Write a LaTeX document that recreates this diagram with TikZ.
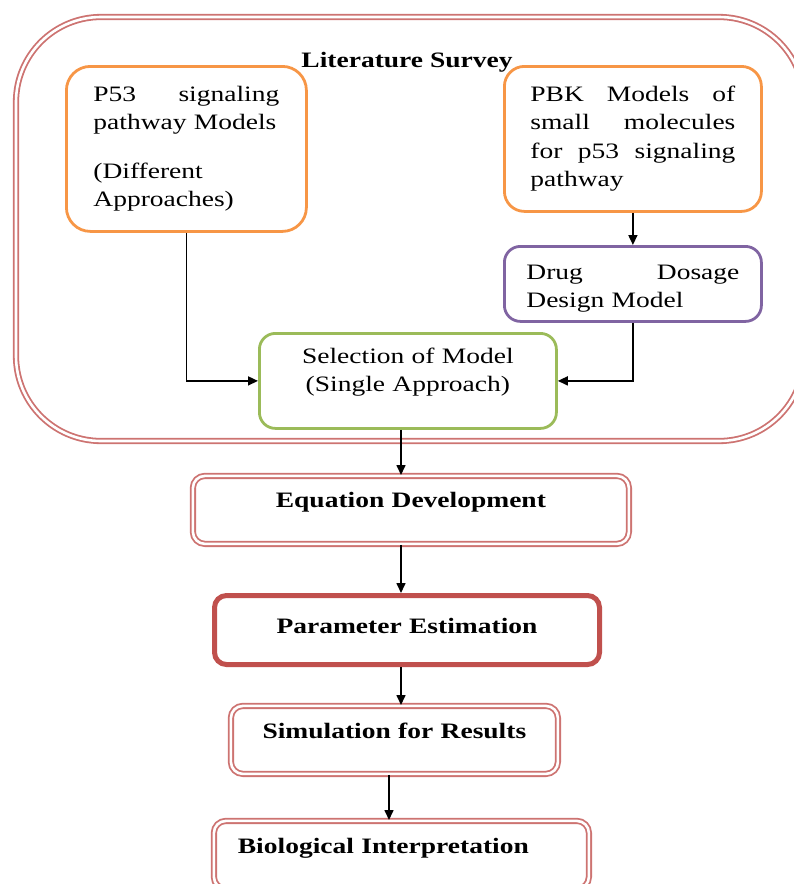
\documentclass[tikz,border=0pt]{standalone}
\usepackage{fontspec}
\setmainfont{Liberation Serif}[FakeStretch=1.25]
\usetikzlibrary{arrows.meta}

\definecolor{orangeline}{HTML}{F79646}
\definecolor{purpleline}{HTML}{8064A2}
\definecolor{greenline}{HTML}{9BBB59}
\definecolor{redline}{HTML}{C0504D}

\tikzset{
	every node/.style={font=\fontsize{22}{28.5}\selectfont},
	modelbox/.style={draw=#1, line width=2.8pt, rounded corners=16pt, anchor=north west, inner ysep=0pt},
	dblline/.style={draw=redline!80, double=white, line width=1.8pt, double distance=2.6pt},
	stagebox/.style={dblline, rounded corners=12pt, anchor=north west, inner ysep=0pt, inner xsep=20pt, align=center, font=\fontsize{22}{28.5}\selectfont\bfseries},
	flow/.style={-{Triangle[length=10pt,width=9pt]}, line width=1.6pt},
}

\begin{document}
\begin{tikzpicture}[x=1pt, y=-1pt]
	\useasboundingbox (0,0) rectangle (793,884);
	
	% literature survey frame
	\draw[dblline, rounded corners=85pt] (16,17) rectangle (804,441);
	\node[anchor=base, font=\fontsize{22}{28.5}\selectfont\bfseries] (litsurvey) at (407,67) {Literature Survey};
	
	\node[modelbox=orangeline, rounded corners=24pt, text width=186pt, inner xsep=27pt, text height=35pt, text depth=130pt, align=left] (p53) at (65,65) {P53 \hfill signaling\\ pathway Models\\[20pt] (Different\\ Approaches)};
	\node[modelbox=orangeline, rounded corners=20pt, text width=205pt, inner xsep=26pt, text height=35pt, text depth=110pt, align=left] (pbk) at (503,65) {PBK \hfill Models \hfill of\\ small \hfill molecules\\ for \hfill p53 \hfill signaling\\ pathway};
	\node[modelbox=purpleline, text width=213pt, inner xsep=22pt, text height=33pt, text depth=42pt, align=left] (drug) at (503,245) {Drug \hfill Dosage\\ Design Model};
	\node[modelbox=greenline, text width=257pt, inner xsep=20pt, text height=30pt, text depth=65pt, align=center] (sel) at (258,332) {Selection of Model\\ (Single Approach)};
	
	% stages below the frame
	\node[stagebox, text width=396pt, text height=32pt, text depth=36pt] (eq) at (192,475) {Equation Development};
	\node[stagebox, draw=redline, double=none, line width=5pt, text width=345pt, text height=38pt, text depth=31pt] (par) at (212,593) {Parameter Estimation};
	\node[stagebox, text width=287pt, text height=33pt, text depth=35pt] (sim) at (230,705) {Simulation for Results};
	\node[stagebox, text width=327pt, inner xsep=24pt, text height=33pt, text depth=35pt, align=left] (bio) at (213,820) {Biological Interpretation};
	
	\coordinate (spine) at (401,0);
	\coordinate (spinelow) at (389,0);
	
	\draw[flow] (p53.south) |- (sel.west);
	\draw[flow] (pbk.south) -- (drug.north);
	\draw[flow] (drug.south) |- (sel.east);
	\draw[flow] (sel.south -| spine) -- (eq.north -| spine);
	\draw[flow] (eq.south -| spine) -- (par.north -| spine);
	\draw[flow] (par.south -| spine) -- (sim.north -| spine);
	\draw[flow] (sim.south -| spinelow) -- (bio.north -| spinelow);
\end{tikzpicture}
\end{document}
